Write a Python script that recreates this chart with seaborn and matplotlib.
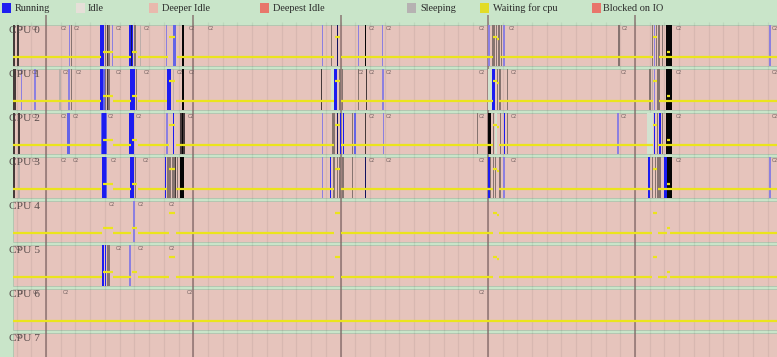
import numpy as np
import pandas as pd
import matplotlib
matplotlib.use("Agg")
import matplotlib.pyplot as plt
from matplotlib.patches import Rectangle
import seaborn as sns

sns.set_theme(style="white")
plt.rcParams['font.family'] = ['Liberation Serif', 'DejaVu Serif']

# ---------------- data ----------------
states = ["Running", "Idle", "Deeper Idle", "Deepest Idle", "Sleeping", "Waiting for cpu", "Blocked on IO"]
state_colors = ["#1f1ff0", "#e6dfd8", "#e8b9ad", "#e8766b", "#b6b2b2", "#e2dc26", "#e8766b"]
cpus = ["CPU 0", "CPU 1", "CPU 2", "CPU 3", "CPU 4", "CPU 5", "CPU 6", "CPU 7"]

trace_start = -2.24   # ms
trace_end = 49.64     # ms

# slice kinds -> colour
kind_colors = {
    "run": "#1c1cf0", "runl": "#6464e6", "thin": "#8c80e0", "gray": "#867470",
    "lgray": "#bcaeaa", "dark": "#463a3a", "navy": "#12125e", "black": "#050505",
    "idle": "#d2e2d0",
}

# (start ms, duration ms, kind)
cpu0_slices = [
    (-2.22, 0.07, "dark"), (-1.94, 0.07, "dark"),
    (1.54, 0.07, "thin"), (1.70, 0.07, "gray"),
    (3.67, 0.27, "run"), (4.01, 0.07, "gray"), (4.12, 0.07, "dark"), (4.23, 0.07, "gray"), (4.48, 0.07, "thin"),
    (5.66, 0.27, "run"), (5.77, 0.06, "navy"), (5.98, 0.13, "gray"), (6.38, 0.07, "lgray"),
    (8.15, 0.07, "thin"), (8.62, 0.21, "runl"), (9.24, 0.13, "black"),
    (18.72, 0.07, "thin"), (19.35, 0.07, "gray"), (19.74, 0.07, "navy"), (21.19, 0.07, "thin"),
    (21.66, 0.07, "black"), (22.82, 0.07, "thin"),
    (30.04, 0.07, "thin"), (30.27, 0.07, "gray"), (30.38, 0.07, "gray"), (30.56, 0.07, "gray"),
    (30.72, 0.07, "gray"), (30.88, 0.07, "gray"), (31.06, 0.07, "thin"),
    (38.87, 0.07, "gray"), (41.13, 0.07, "gray"), (41.29, 0.07, "thin"), (41.42, 0.07, "gray"),
    (41.58, 0.07, "gray"), (41.81, 0.07, "gray"), (42.11, 0.38, "black"),
    (49.12, 0.07, "thin"),
]
cpu1_slices = [
    (-2.22, 0.07, "dark"), (-2.11, 0.07, "dark"), (-1.72, 0.07, "thin"), (-0.79, 0.07, "thin"),
    (0.90, 0.07, "lgray"), (1.51, 0.07, "thin"), (1.70, 0.07, "gray"),
    (3.67, 0.22, "run"), (3.89, 0.08, "runl"), (4.01, 0.07, "gray"), (4.12, 0.07, "dark"), (4.23, 0.07, "gray"),
    (5.70, 0.34, "run"), (6.11, 0.07, "gray"),
    (8.20, 0.27, "run"), (8.60, 0.07, "lgray"), (9.22, 0.15, "black"),
    (18.68, 0.07, "dark"), (19.35, 0.23, "idle"), (19.58, 0.20, "run"), (19.92, 0.07, "gray"),
    (20.08, 0.07, "gray"), (21.19, 0.07, "gray"), (21.71, 0.07, "dark"), (22.84, 0.07, "thin"),
    (30.04, 0.23, "idle"), (30.31, 0.18, "run"), (30.61, 0.07, "gray"), (30.78, 0.07, "gray"), (31.29, 0.07, "gray"),
    (40.97, 0.07, "gray"), (41.13, 0.07, "lgray"), (41.29, 0.07, "thin"), (41.47, 0.07, "gray"),
    (41.58, 0.07, "gray"), (42.08, 0.41, "black"),
]
cpu2_slices = [
    (-2.22, 0.07, "dark"), (-1.88, 0.07, "dark"),
    (1.41, 0.22, "runl"),
    (3.74, 0.05, "runl"), (3.78, 0.29, "run"), (4.07, 0.07, "runl"),
    (5.66, 0.32, "run"),
    (8.15, 0.11, "thin"), (8.60, 0.11, "run"), (9.10, 0.34, "dark"), (9.22, 0.08, "black"),
    (18.72, 0.07, "thin"), (19.40, 0.07, "gray"), (19.51, 0.07, "gray"), (19.74, 0.07, "navy"),
    (19.97, 0.07, "run"), (20.15, 0.07, "run"), (20.76, 0.07, "gray"), (20.94, 0.07, "runl"),
    (21.66, 0.07, "dark"), (22.87, 0.07, "thin"),
    (29.25, 0.07, "gray"), (30.04, 0.16, "black"), (30.34, 0.07, "gray"), (30.49, 0.12, "idle"),
    (30.83, 0.07, "gray"), (31.10, 0.07, "run"), (31.29, 0.07, "gray"),
    (38.80, 0.07, "thin"),
    (40.84, 0.40, "idle"), (41.29, 0.07, "run"), (41.47, 0.07, "gray"), (41.65, 0.12, "run"),
    (41.81, 0.07, "gray"), (42.08, 0.41, "black"),
]
cpu3_slices = [
    (-2.22, 0.07, "dark"), (-1.88, 0.07, "lgray"),
    (3.78, 0.30, "run"), (4.08, 0.08, "runl"),
    (5.70, 0.28, "run"), (6.04, 0.07, "gray"),
    (8.08, 0.07, "run"), (8.20, 0.07, "gray"), (8.31, 0.07, "gray"), (8.42, 0.07, "gray"), (8.54, 0.07, "gray"),
    (8.65, 0.07, "gray"), (8.76, 0.07, "dark"), (8.88, 0.07, "gray"), (9.10, 0.27, "black"),
    (18.72, 0.07, "thin"), (19.29, 0.07, "run"), (19.51, 0.07, "gray"), (19.74, 0.07, "gray"),
    (19.92, 0.07, "gray"), (20.08, 0.07, "gray"), (20.17, 0.07, "gray"), (20.76, 0.07, "gray"), (21.66, 0.07, "navy"),
    (30.04, 0.07, "run"), (30.15, 0.07, "gray"), (30.34, 0.07, "gray"), (30.49, 0.07, "gray"),
    (30.78, 0.07, "gray"), (31.06, 0.07, "thin"),
    (40.90, 0.07, "run"), (41.13, 0.07, "gray"), (41.35, 0.07, "gray"), (41.51, 0.07, "gray"),
    (41.65, 0.07, "gray"), (41.99, 0.16, "run"), (42.15, 0.34, "black"),
    (49.12, 0.07, "thin"),
]
cpu4_slices = [(5.93, 0.07, "thin")]
cpu5_slices = [(3.78, 0.16, "run"), (4.01, 0.07, "run"), (4.12, 0.07, "gray"), (4.24, 0.07, "gray"), (5.66, 0.07, "thin")]
cpu6_slices = []
cpu7_slices = []
slices = [cpu0_slices, cpu1_slices, cpu2_slices, cpu3_slices, cpu4_slices, cpu5_slices, cpu6_slices, cpu7_slices]

# waiting-for-cpu spans on the main track (start ms, end ms)
wait0 = [(-2.22, 3.74), (4.57, 5.77), (6.25, 8.29), (8.88, 19.58), (20.01, 30.34), (30.83, 41.20), (41.65, 49.64)]
wait1 = [(-2.22, 3.74), (4.53, 5.75), (6.23, 8.20), (8.83, 19.58), (20.03, 30.34), (30.78, 41.20), (41.65, 49.64)]
wait2 = [(-2.22, 3.74), (4.57, 5.77), (6.23, 8.37), (8.83, 19.58), (20.01, 30.34), (30.78, 41.20), (41.58, 49.64)]
wait3 = [(-2.22, 3.74), (4.57, 5.77), (6.23, 8.20), (8.83, 19.58), (20.03, 30.34), (30.78, 41.13), (41.58, 49.64)]
wait4 = [(-2.22, 3.78), (4.57, 5.77), (6.23, 8.37), (8.83, 19.58), (20.03, 30.38), (30.78, 41.17), (41.58, 42.15), (42.38, 49.64)]
wait5 = [(-2.22, 3.78), (4.57, 5.77), (6.23, 8.37), (8.83, 19.58), (20.03, 30.38), (30.78, 41.17), (41.58, 42.15), (42.38, 49.64)]
wait6 = [(-2.22, 49.64)]
wait7 = []
waits = [wait0, wait1, wait2, wait3, wait4, wait5, wait6, wait7]

# short waiting spans on upper sub-tracks (level 1 = mid, 2 = high, 3 = high-lower)
wait_mid = [(3.85, 4.53), (5.82, 6.20), (42.17, 42.38)]
wait_high = [(8.35, 8.76), (19.63, 19.97), (30.38, 30.61), (41.20, 41.51)]
wait_high2 = [(30.61, 30.78)]
dash_cpus = [0, 1, 2, 3, 4, 5]

# C-state "C2" markers (ms)
c2_marks = [
    [-1.97, -1.02, 0.95, 1.83, 4.69, 6.59, 9.64, 10.93, 21.87, 23.02, 29.34, 31.38, 39.05, 42.72, 49.28],
    [-1.97, -1.02, 1.09, 1.97, 4.69, 6.59, 8.83, 9.64, 21.12, 21.87, 23.02, 29.34, 31.51, 38.98, 42.72, 49.28],
    [-1.02, 0.95, 1.77, 4.14, 6.04, 9.58, 21.87, 23.02, 29.34, 31.51, 38.98, 42.72, 49.28],
    [-1.02, 0.95, 1.77, 4.35, 6.52, 21.87, 23.02, 29.34, 31.51, 42.72, 49.28],
    [4.21, 6.18, 8.29],
    [-2.11, 4.69, 6.18, 8.29],
    [-1.97, -0.95, 1.09, 9.51, 29.34],
    [-2.11],
]

# ---------------- layout ----------------
W, H = 777, 357
BG = "#c9e5c9"
PINK = "#e6c4bc"
YELLOW = "#ebe41c"
LEFT_PX = 13
LANE_TOP0, LANE_STEP, LANE_H = 25.3, 44.0, 41.0
LEVEL_OFF = {0: 31.2, 1: 27.0, 2: 11.2, 3: 13.2}
MIN_PX = 1.3

ms_per_px = (trace_end - trace_start) / (W - LEFT_PX)

fig = plt.figure(figsize=(W / 100, H / 100), dpi=100, facecolor=BG)
ax = fig.add_axes([0, 0, 1, 1])
ax.set_facecolor(BG)


def lane_top(i):
    return LANE_TOP0 + LANE_STEP * i


# lanes
for i in range(len(cpus)):
    ax.add_patch(Rectangle((trace_start, lane_top(i)), trace_end - trace_start + 1, LANE_H,
                           facecolor=PINK, edgecolor="#aec4ae", lw=0.6, zorder=1))

# minor grid
for t in np.arange(np.ceil(trace_start), trace_end, 1.0):
    ax.vlines(t, 22, H, color="k", alpha=0.065, lw=0.9, zorder=1.5)

# slices (drawn at least MIN_PX wide, as trace viewers do)
for i, sl in enumerate(slices):
    for kind in kind_colors:
        segs = [(s, max(d, MIN_PX * ms_per_px)) for (s, d, k) in sl if k == kind]
        if segs:
            ax.broken_barh(segs, (lane_top(i), LANE_H), facecolors=kind_colors[kind], lw=0, zorder=3)

# major grid
for t in np.arange(0, trace_end, 10.0):
    ax.vlines(t, 15, H, color="#7e6464", alpha=0.85, lw=1.1, zorder=2.5)

# waiting for cpu (seaborn lines)
rows = []
seg_id = 0
for i, segs in enumerate(waits):
    for (a, b) in segs:
        y = lane_top(i) + LEVEL_OFF[0]
        rows += [(seg_id, a, y), (seg_id, b, y)]
        seg_id += 1
for i in dash_cpus:
    for lvl, segs in ((1, wait_mid), (2, wait_high), (3, wait_high2)):
        for (a, b) in segs:
            y = lane_top(i) + LEVEL_OFF[lvl]
            rows += [(seg_id, a, y), (seg_id, b, y)]
            seg_id += 1
wdf = pd.DataFrame(rows, columns=["seg", "t", "y"])
sns.lineplot(data=wdf, x="t", y="y", units="seg", estimator=None, sort=False,
             color=YELLOW, lw=1.6, ax=ax, legend=False, zorder=4, solid_capstyle="butt")

# C2 labels
for i, marks in enumerate(c2_marks):
    for t in marks:
        ax.text(t + 0.5 * ms_per_px, lane_top(i) + 3.6, "C2", fontsize=3.4, color="#6c5c5c",
                va="center", ha="left", family="DejaVu Sans", zorder=5)

ax.set_xlim(trace_start - LEFT_PX * ms_per_px, trace_end)
ax.set_ylim(H, 0)
ax.axis("off")

# overlay in pixel units for labels and legend
lay = fig.add_axes([0, 0, 1, 1])
lay.set_xlim(0, W)
lay.set_ylim(H, 0)
lay.axis("off")
lay.patch.set_alpha(0)

for i, name in enumerate(cpus):
    lay.text(9.3, lane_top(i) + 5.6, name, fontsize=8.2, color="#4e4444", alpha=0.92,
             va="center", ha="left", zorder=10)

sq_x = [2, 76, 149, 260, 407, 480, 592]
tx_x = [15, 88, 162, 273, 420, 493, 603]
for name, col, sx, tx in zip(states, state_colors, sq_x, tx_x):
    lay.add_patch(Rectangle((sx, 3.2), 8.5, 9.6, facecolor=col, lw=0))
    lay.text(tx, 8.6, name, fontsize=7.4, color="#2a2a2a", va="center", ha="left")

fig.savefig("out.png", dpi=100, facecolor=BG)
